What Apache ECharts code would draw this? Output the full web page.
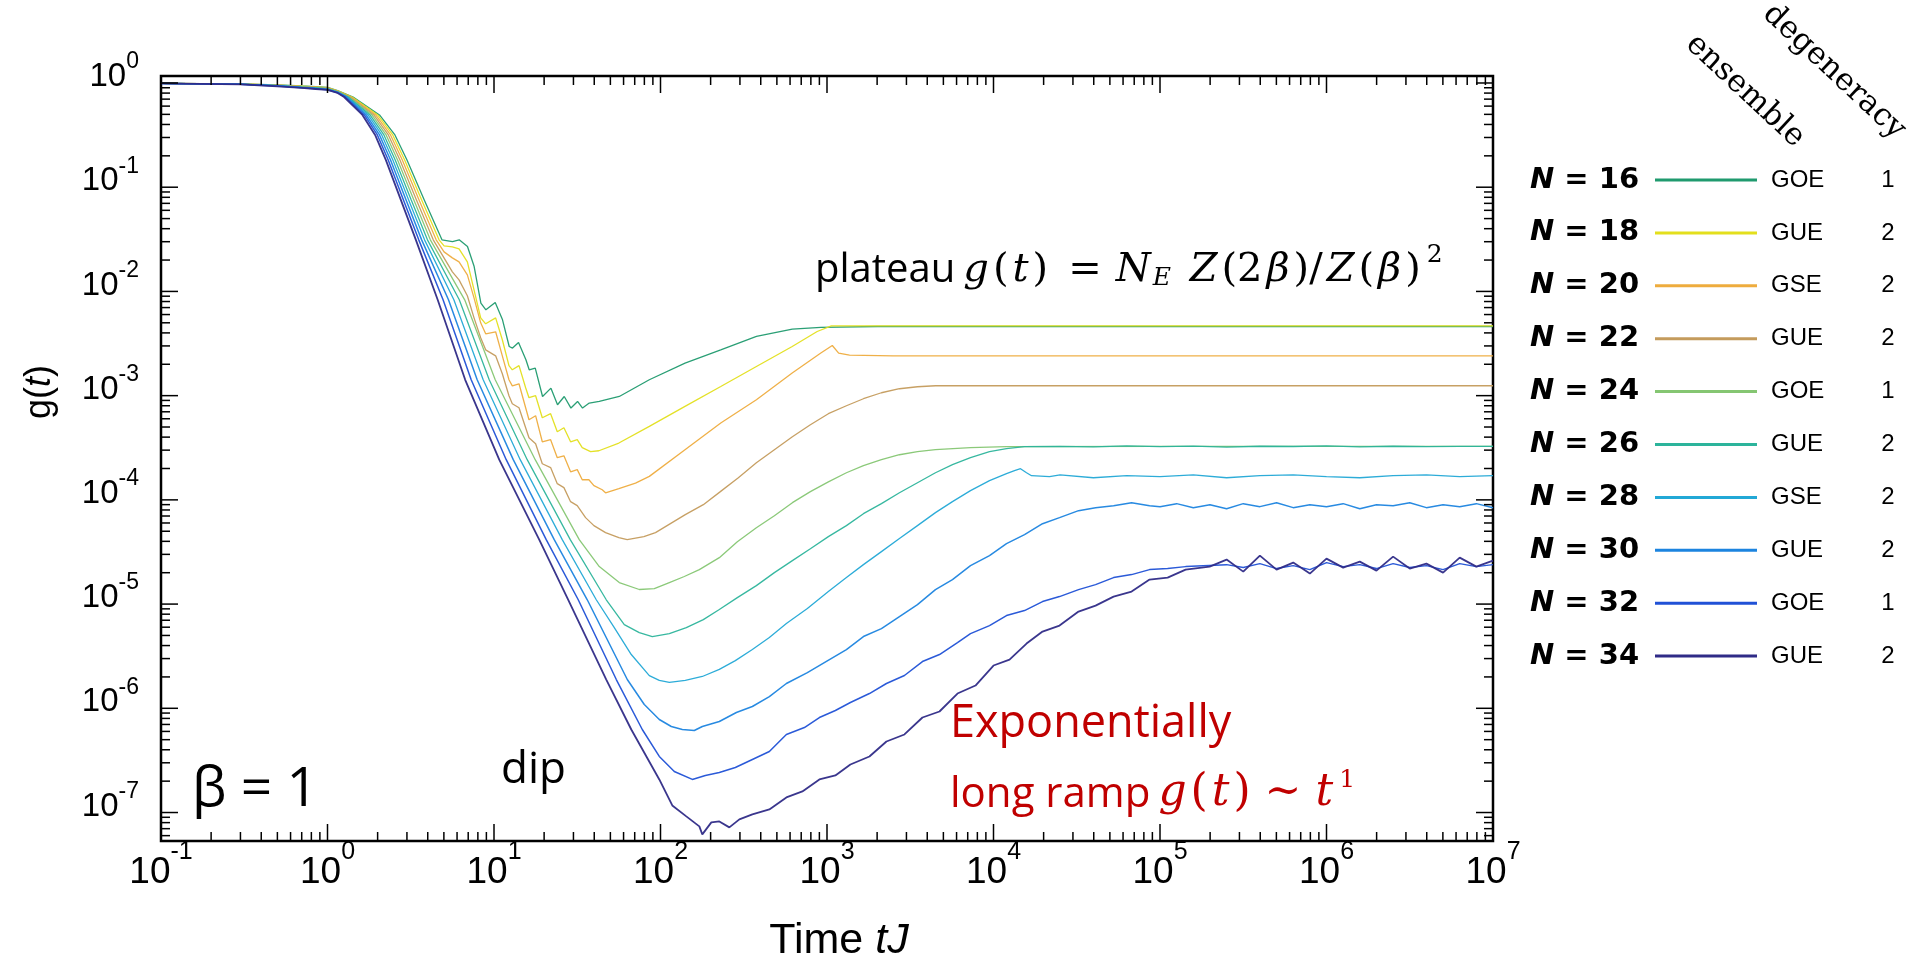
<!DOCTYPE html>
<html>
<head>
<meta charset="utf-8">
<title>Spectral form factor g(t), β = 1</title>
<script src="https://cdn.jsdelivr.net/npm/echarts@6/dist/echarts.min.js"></script>
<style>
  html, body { margin: 0; padding: 0; background: #fff; }
  #chart { width: 1911px; height: 966px; }
</style>
</head>
<body>
<div id="chart"></div>
<script>
// ---- data: g(t) for each system size, as [time tJ, g] pairs ----
const n16 = [[0.1,0.99],[0.3,0.98],[0.5,0.96],[0.7,0.936],[0.85,0.924],[1,0.909],[1.15,0.846],[1.425,0.734],[2.053,0.4934],[2.541,0.3173],[3.002,0.1827],[3.812,0.0755],[4.869,0.03125],[5.63,0.0301],[6.18,0.03125],[6.93,0.02695],[7.60,0.01733],[8.34,0.00772],[8.94,0.00666],[10.17,0.00783],[11.25,0.00534],[12.34,0.00296],[12.92,0.00286],[14.04,0.00324],[15.55,0.00221],[16.27,0.00177],[17.69,0.00184],[19.57,0.000982],[21.98,0.00118],[24.07,0.000818],[26.42,0.000982],[28.98,0.00076],[31.76,0.00088],[34.03,0.00076],[37.34,0.000849],[42.88,0.00088],[56.55,0.000982],[85.66,0.00142],[140.4,0.00205],[230,0.00275],[377,0.0037],[618.7,0.00435],[917.9,0.00451],[2000,0.00461],[1e4,0.00461],[1e5,0.00461],[1e6,0.00461],[1e7,0.00461]];
const n18 = [[0.1,0.99],[0.3,0.979],[0.5,0.956],[0.7,0.931],[0.85,0.918],[1,0.903],[1.15,0.841],[1.405,0.734],[2.001,0.4934],[2.465,0.3173],[2.906,0.1827],[3.677,0.0755],[4.677,0.03125],[5.012,0.02736],[5.623,0.02677],[6.166,0.02561],[6.918,0.01922],[7.586,0.01036],[8.318,0.00558],[8.913,0.00489],[10.23,0.00558],[11.22,0.00344],[12.30,0.00194],[12.88,0.00177],[14.13,0.00194],[15.49,0.00119],[16.22,0.000955],[17.78,0.000998],[19.50,0.000614],[21.88,0.000671],[23.99,0.000451],[26.30,0.000492],[28.84,0.000361],[31.62,0.000378],[33.88,0.000317],[38.02,0.00029],[42.66,0.000296],[56.23,0.000351],[85.7,0.000507],[140.3,0.000788],[230.1,0.001225],[376.7,0.001905],[618,0.002963],[873,0.004125],[1062,0.00468],[3000,0.00468],[1e4,0.00468],[1e5,0.00468],[1e6,0.00468],[1e7,0.00468]];
const n20 = [[0.1,0.99],[0.3,0.978],[0.5,0.953],[0.7,0.927],[0.85,0.913],[1,0.897],[1.15,0.836],[1.386,0.734],[1.948,0.4934],[2.391,0.3173],[2.814,0.1827],[3.547,0.0755],[4.494,0.03125],[5.012,0.02397],[5.623,0.02099],[6.166,0.01922],[6.918,0.01443],[7.586,0.00868],[8.318,0.005],[8.913,0.00392],[10.23,0.0041],[11.22,0.00241],[12.30,0.00142],[12.88,0.00124],[14.13,0.0013],[15.49,0.000766],[16.22,0.000587],[17.78,0.000642],[19.50,0.000361],[21.88,0.000378],[23.99,0.000254],[26.30,0.000265],[28.84,0.000186],[31.62,0.000195],[33.88,0.000156],[37.15,0.000156],[39.81,0.000137],[44.67,0.000125],[46.77,0.000117],[56.23,0.000128],[70.79,0.000145],[85.7,0.000168],[140.3,0.000303],[230.1,0.000546],[376.7,0.000913],[618,0.001647],[918.3,0.002561],[1076,0.00303],[1175,0.00256],[1365,0.00245],[2500,0.00241],[1e4,0.00241],[1e5,0.00241],[1e6,0.00241],[1e7,0.00241]];
const n22 = [[0.1,0.99],[0.3,0.977],[0.5,0.95],[0.7,0.922],[0.85,0.908],[1,0.891],[1.15,0.831],[1.367,0.734],[1.898,0.4934],[2.320,0.3173],[2.723,0.1827],[3.421,0.0755],[4.317,0.03125],[5.623,0.01541],[6.166,0.01292],[6.918,0.00908],[7.586,0.00558],[8.318,0.00359],[8.913,0.00275],[10.23,0.00241],[11.22,0.00162],[12.30,0.000998],[12.88,0.000837],[14.13,0.000766],[15.49,0.000492],[16.22,0.000395],[17.78,0.000346],[19.50,0.000222],[21.88,0.000204],[23.99,0.000143],[26.30,0.000131],[28.84,9.61e-5],[31.62,8.8e-5],[35.48,6.75e-5],[39.81,5.66e-5],[46.77,4.85e-5],[56.23,4.34e-5],[63.10,4.15e-5],[79.43,4.44e-5],[93.33,4.85e-5],[140.9,7.21e-5],[180.8,8.99e-5],[228.8,0.00012],[293.5,0.000163],[376.5,0.000227],[483,0.000303],[619.6,0.000404],[794.7,0.000526],[1019,0.000671],[1308,0.0008],[1655,0.000934],[2123,0.001066],[2723,0.001165],[3494,0.001217],[4481,0.001244],[1e4,0.001244],[1e5,0.001244],[1e6,0.001244],[1e7,0.001244]];
const n24 = [[0.1,0.99],[0.3,0.976],[0.5,0.948],[0.7,0.918],[0.85,0.902],[1,0.885],[1.15,0.827],[1.348,0.734],[1.849,0.4934],[2.250,0.3173],[2.636,0.1827],[3.301,0.0755],[4.147,0.03125],[6.668,0.00831],[10.17,0.00142],[17.68,0.000243],[32.51,4.15e-5],[42.88,2.29e-5],[56.55,1.61e-5],[74.57,1.38e-5],[91.78,1.41e-5],[113,1.61e-5],[139,1.84e-5],[171.1,2.14e-5],[225.6,2.79e-5],[289.4,3.97e-5],[376.5,5.41e-5],[483,7.05e-5],[619.6,9.4e-5],[794.7,0.00012],[1019,0.000149],[1308,0.000182],[1655,0.000213],[2123,0.000243],[2723,0.000271],[3494,0.00029],[4481,0.000303],[7275,0.000317],[11970,0.000324],[1e5,0.000326],[1e6,0.000326],[1e7,0.000326]];
const n26 = [[0.1,0.99],[0.3,0.975],[0.5,0.945],[0.7,0.914],[0.85,0.897],[1,0.88],[1.15,0.822],[1.33,0.734],[1.8,0.4934],[2.182,0.3173],[2.551,0.1827],[3.184,0.0755],[3.984,0.03125],[6.187,0.00831],[9.359,0.00142],[15.83,0.000243],[28.71,4.15e-5],[47.24,1.10e-5],[60.6,6.36e-6],[74.57,5.33e-6],[89.27,4.88e-6],[113,5.21e-6],[142.9,5.95e-6],[180.8,7.1e-6],[225.6,8.86e-6],[289.4,1.154e-5],[376.5,1.504e-5],[483,2.004e-5],[619.6,2.613e-5],[794.7,3.4e-5],[1019,4.44e-5],[1308,5.66e-5],[1655,7.37e-5],[2123,9.2e-5],[2723,0.000117],[3494,0.000146],[4481,0.000182],[5670,0.000218],[7275,0.000254],[9463,0.00029],[11970,0.00031],[15360,0.000324],[25120,0.000326],[39810,0.000322],[63100,0.00033],[1e5,0.000324],[158500,0.000328],[251200,0.000321],[398100,0.000327],[631000,0.000325],[1e6,0.00033],[1585000,0.000323],[2512000,0.000327],[3981000,0.000324],[6310000,0.000326],[1e7,0.000326]];
const n28 = [[0.1,0.99],[0.3,0.974],[0.5,0.943],[0.7,0.909],[0.85,0.892],[1,0.874],[1.15,0.817],[1.311,0.734],[1.754,0.4934],[2.117,0.3173],[2.47,0.1827],[3.072,0.0755],[3.827,0.03125],[5.741,0.00831],[8.612,0.00142],[14.37,0.000243],[25.7,4.15e-5],[41.14,1.10e-5],[52.78,5.95e-6],[66.76,3.28e-6],[85.66,2.06e-6],[98.35,1.85e-6],[113,1.77e-6],[140.9,1.85e-6],[178.3,2.02e-6],[225.6,2.36e-6],[281.5,2.87e-6],[356.2,3.66e-6],[450.6,4.77e-6],[570.2,6.5e-6],[762.4,9.06e-6],[1019,1.318e-5],[1308,1.795e-5],[1655,2.391e-5],[2123,3.186e-5],[2723,4.25e-5],[3494,5.66e-5],[4481,7.54e-5],[5670,9.61e-5],[7275,0.0001225],[9463,0.0001528],[11970,0.0001784],[13370,0.0001905],[14530,0.0001991],[15790,0.0001823],[16920,0.0001706],[21700,0.0001669],[25120,0.000174],[39810,0.000163],[63100,0.000171],[1e5,0.000167],[158500,0.000174],[251200,0.000163],[398100,0.000171],[631000,0.000174],[1e6,0.000167],[1585000,0.000163],[2512000,0.000171],[3981000,0.000174],[6310000,0.000167],[1e7,0.000171]];
const n30 = [[0.1,0.99],[0.3,0.973],[0.5,0.94],[0.7,0.905],[0.85,0.887],[1,0.868],[1.15,0.812],[1.294,0.734],[1.708,0.4934],[2.053,0.3173],[2.391,0.1827],[2.964,0.0755],[3.677,0.03125],[5.329,0.00831],[7.925,0.00142],[13.05,0.000243],[23,4.15e-5],[36.32,1.10e-5],[63.17,1.888e-6],[79.91,1.087e-6],[98.35,7.81e-7],[116.1,6.69e-7],[135.2,6.26e-7],[159.6,6.12e-7],[178.3,6.69e-7],[225.6,7.47e-7],[285.5,9.11e-7],[356.2,1.041e-6],[450.6,1.297e-6],[570.2,1.729e-6],[762.4,2.203e-6],[1034,2.937e-6],[1308,3.66e-6],[1655,4.88e-6],[2123,5.82e-6],[2723,7.59e-6],[3494,9.89e-6],[4481,1.377e-5],[5670,1.717e-5],[7275,2.339e-5],[9463,2.917e-5],[11970,3.8e-5],[15360,4.64e-5],[19700,5.91e-5],[24920,6.75e-5],[32420,7.88e-5],[41030,8.42e-5],[52620,8.8e-5],[67500,9.4e-5],[86580,8.8e-5],[1e5,8.61e-5],[125900,9.2e-5],[158500,8.42e-5],[199500,8.99e-5],[251200,8.23e-5],[316200,9.2e-5],[398100,8.61e-5],[501200,9.4e-5],[631000,8.42e-5],[794300,8.99e-5],[1e6,8.61e-5],[1259000,9.2e-5],[1585000,8.23e-5],[1995000,8.99e-5],[2512000,8.8e-5],[3162000,9.4e-5],[3981000,8.42e-5],[5012000,8.99e-5],[6310000,8.61e-5],[7943000,9.2e-5],[1e7,8.42e-5]];
const n32 = [[0.1,0.99],[0.3,0.972],[0.5,0.935],[0.7,0.9],[0.85,0.881],[1,0.862],[1.15,0.807],[1.276,0.734],[1.664,0.4934],[1.993,0.3173],[2.315,0.1827],[2.858,0.0755],[3.533,0.03125],[4.944,0.00831],[7.295,0.00142],[11.84,0.000243],[20.59,4.15e-5],[32.06,1.10e-5],[54.27,1.888e-6],[77.72,6.26e-7],[98.35,3.45e-7],[121,2.478e-7],[155.3,2.077e-7],[185.9,2.268e-7],[225.6,2.424e-7],[281.5,2.706e-7],[356.2,3.229e-7],[450.6,3.853e-7],[570.2,5.61e-7],[731.5,6.54e-7],[900.2,8.16e-7],[1123,9.53e-7],[1382,1.136e-6],[1798,1.386e-6],[2275,1.729e-6],[2918,2.063e-6],[3743,2.81e-6],[4738,3.28e-6],[6077,4.27e-6],[7275,5.21e-6],[9463,6.22e-6],[11970,7.76e-6],[15360,8.66e-6],[19700,1.057e-5],[24920,1.18e-5],[32420,1.377e-5],[41030,1.538e-5],[52620,1.795e-5],[67500,1.918e-5],[86580,2.142e-5],[111100,2.19e-5],[142500,2.288e-5],[251200,2.391e-5],[316200,2.239e-5],[398100,2.445e-5],[501200,2.19e-5],[631000,2.339e-5],[794300,2.142e-5],[1e6,2.5e-5],[1259000,2.288e-5],[1585000,2.391e-5],[1995000,2.19e-5],[2512000,2.445e-5],[3162000,2.239e-5],[3981000,2.339e-5],[5012000,2.142e-5],[6310000,2.445e-5],[7943000,2.288e-5],[1e7,2.391e-5]];
const n34 = [[0.1,0.99],[0.3,0.97],[0.5,0.93],[0.7,0.896],[0.85,0.876],[1,0.857],[1.15,0.802],[1.258,0.734],[1.621,0.4934],[1.932,0.3173],[2.24,0.1827],[2.757,0.0755],[3.394,0.03125],[4.589,0.00831],[6.714,0.00142],[10.75,0.000243],[18.69,4.15e-5],[27.92,1.10e-5],[47.24,1.888e-6],[66.76,6.26e-7],[98.35,2.077e-7],[117.7,1.169e-7],[142.9,9.18e-8],[171.1,7.36e-8],[178.3,6.17e-8],[202,8.04e-8],[225.6,8.21e-8],[259.1,7.2e-8],[297.6,8.59e-8],[356.2,9.59e-8],[450.6,1.071e-7],[570.2,1.396e-7],[711.5,1.594e-7],[900.2,2.077e-7],[1123,2.268e-7],[1382,2.891e-7],[1798,3.45e-7],[2275,4.8e-7],[2918,5.61e-7],[3743,8.16e-7],[4738,9.32e-7],[6077,1.386e-6],[7795,1.654e-6],[1e4,2.573e-6],[12480,2.937e-6],[15790,4.18e-6],[19700,5.45e-6],[24920,6.22e-6],[32420,8.48e-6],[41030,9.67e-6],[52620,1.18e-5],[67500,1.318e-5],[86580,1.717e-5],[111100,1.795e-5],[142500,2.142e-5],[198700,2.288e-5],[251200,2.672e-5],[316200,2.049e-5],[398100,2.917e-5],[501200,2.142e-5],[631000,2.5e-5],[794300,1.961e-5],[1e6,2.731e-5],[1259000,2.239e-5],[1585000,2.556e-5],[1995000,2.096e-5],[2512000,2.853e-5],[3162000,2.19e-5],[3981000,2.445e-5],[5012000,2.004e-5],[6310000,2.791e-5],[7943000,2.288e-5],[1e7,2.613e-5]];

// ---- legend table ----
const sizes = [16, 18, 20, 22, 24, 26, 28, 30, 32, 34];
const ensembles = ['GOE', 'GUE', 'GSE', 'GUE', 'GOE', 'GUE', 'GSE', 'GUE', 'GOE', 'GUE'];
const degeneracies = [1, 2, 2, 2, 1, 2, 2, 2, 1, 2];
const curves = [n16, n18, n20, n22, n24, n26, n28, n30, n32, n34];
const palette = ['#1f9a6e', '#e3df1c', '#eeac3e', '#c49b5c', '#85c672', '#2cb49b', '#22a8d6', '#1c84df', '#2051d6', '#2f2b87'];

// ---- axis ranges and tick values ----
const X_MIN = 0.1, X_MAX = 1e7;
const Y_MIN = 5.33e-8, Y_MAX = 1.167;
const xDecades = [0.1, 1, 10, 100, 1e3, 1e4, 1e5, 1e6, 1e7];
const yDecades = [1e-8, 1e-7, 1e-6, 1e-5, 1e-4, 1e-3, 1e-2, 1e-1, 1];
const minorSteps = [2, 3, 4, 5, 6, 7, 8, 9];

// tick marks drawn inward on all four sides: [x, y, axis(0=x,1=y), major]
const tickItems = [];
xDecades.forEach(d => {
  tickItems.push([d, 1, 0, 1]);
  minorSteps.forEach(m => { const v = d * m; if (v < X_MAX) tickItems.push([v, 1, 0, 0]); });
});
yDecades.forEach(d => {
  if (d >= Y_MIN && d <= Y_MAX) tickItems.push([1, d, 1, 1]);
  minorSteps.forEach(m => { const v = d * m; if (v > Y_MIN && v < Y_MAX) tickItems.push([1, v, 1, 0]); });
});

const GRID = { left: 161, top: 76, width: 1332, height: 765 };
const LEG_TOP = 165, LEG_PITCH = 52.9, LEG_ROW_H = 30;

function powerLabel(v) {
  const e = Math.log10(v);
  const r = Math.round(e);
  if (Math.abs(e - r) > 1e-6) return '';
  return '{b|10}{s|' + r + '}';
}

const chart = echarts.init(document.getElementById('chart'), null, { renderer: 'canvas' });

const lineSeries = sizes.map((n, i) => ({
  name: 'N = ' + n,
  type: 'line',
  data: curves[i],
  showSymbol: false,
  symbol: 'none',
  silent: true,
  z: 2 + i,
  itemStyle: { color: palette[i] },
  lineStyle: { color: palette[i], width: i >= 9 ? 1.8 : (i >= 7 ? 1.5 : 1.3), opacity: 0.95 }
}));

const tickSeries = {
  type: 'custom',
  silent: true,
  z: 20,
  clip: false,
  data: tickItems,
  encode: { x: 0, y: 1 },
  renderItem: function (params, api) {
    const cs = params.coordSys;
    const major = api.value(3) === 1;
    const len = major ? 17 : 9;
    const style = { stroke: '#000', lineWidth: 1.5 };
    if (api.value(2) === 0) {
      const px = api.coord([api.value(0), 1])[0];
      const b = cs.y + cs.height;
      return { type: 'group', children: [
        { type: 'line', shape: { x1: px, y1: b, x2: px, y2: b - len }, style: style },
        { type: 'line', shape: { x1: px, y1: cs.y, x2: px, y2: cs.y + len }, style: style }
      ] };
    }
    const py = api.coord([1, api.value(1)])[1];
    const r = cs.x + cs.width;
    return { type: 'group', children: [
      { type: 'line', shape: { x1: cs.x, y1: py, x2: cs.x + len, y2: py }, style: style },
      { type: 'line', shape: { x1: r, y1: py, x2: r - len, y2: py }, style: style }
    ] };
  }
};

const graphics = [];
// y axis title
graphics.push({
  type: 'text', x: 40, y: 392, rotation: Math.PI / 2, silent: true,
  style: {
    text: '{a|g(}{b|t}{a|)}', align: 'center', verticalAlign: 'middle',
    rich: {
      a: { fontFamily: 'Liberation Sans', fontSize: 36, fill: '#000' },
      b: { fontFamily: 'Liberation Sans', fontSize: 36, fontStyle: 'italic', fill: '#000' }
    }
  }
});
// x axis title
graphics.push({
  type: 'text', x: 839, y: 941, silent: true,
  style: {
    text: '{a|Time }{b|tJ}', align: 'center', verticalAlign: 'middle',
    rich: {
      a: { fontFamily: 'Liberation Sans', fontSize: 43, fill: '#000' },
      b: { fontFamily: 'Liberation Sans', fontSize: 43, fontStyle: 'italic', fill: '#000' }
    }
  }
});
// annotations
graphics.push({
  type: 'text', x: 192, y: 790, silent: true,
  style: { text: 'β = 1', fontFamily: 'Open Sans', fontSize: 55, fill: '#000', align: 'left', verticalAlign: 'middle' }
});
graphics.push({
  type: 'text', x: 501, y: 770, silent: true,
  style: { text: 'dip', fontFamily: 'Open Sans', fontSize: 44, fill: '#000', align: 'left', verticalAlign: 'middle' }
});
// math-style rich text pieces: t = prose, m = italic variable, u = upright symbol
const mathRich = function (color, textSize, mathSize, relPad) {
  const pad = [0, 2, 0, 2];
  return {
    t: { fontFamily: 'Open Sans', fontSize: textSize, lineHeight: 50, verticalAlign: 'bottom', fill: color, padding: [0, 6, 0, 0] },
    m: { fontFamily: 'DejaVu Serif', fontStyle: 'italic', fontSize: mathSize, lineHeight: 50, verticalAlign: 'bottom', fill: color, padding: pad },
    u: { fontFamily: 'DejaVu Serif', fontSize: mathSize, lineHeight: 50, verticalAlign: 'bottom', fill: color, padding: pad },
    rel: { fontFamily: 'DejaVu Serif', fontSize: mathSize, lineHeight: 50, verticalAlign: 'bottom', fill: color, padding: relPad },
    sp: { fontFamily: 'DejaVu Serif', fontSize: mathSize, lineHeight: 50, verticalAlign: 'bottom', fill: color, padding: [0, 4, 0, 0] },
    sub: { fontFamily: 'DejaVu Serif', fontStyle: 'italic', fontSize: 25, lineHeight: 25, verticalAlign: 'bottom', fill: color },
    sup: { fontFamily: 'DejaVu Serif', fontSize: 25, lineHeight: 25, padding: [0, 0, 23, 4], verticalAlign: 'bottom', fill: color }
  };
};
graphics.push({
  type: 'text', x: 815, y: 291, silent: true,
  style: {
    text: '{t|plateau}{m|g}{u|(}{m|t}{u|)}{rel|=}{m|N}{sub|E}{sp| }{m|Z}{u|(2}{m|β}{u|)/}{m|Z}{u|(}{m|β}{u|)}{sup|2}',
    align: 'left', verticalAlign: 'bottom', rich: mathRich('#000', 40, 40, [0, 12, 0, 18])
  }
});
graphics.push({
  type: 'text', x: 950, y: 724, silent: true,
  style: { text: 'Exponentially', fontFamily: 'Open Sans', fontSize: 45, fill: '#c00000', align: 'left', verticalAlign: 'middle' }
});
graphics.push({
  type: 'text', x: 950, y: 816, silent: true,
  style: {
    text: '{t|long ramp}{m|g}{u|(}{m|t}{u|)}{rel|~}{m|t}{sup|1}',
    align: 'left', verticalAlign: 'bottom', rich: mathRich('#c00000', 42, 44, [0, 12, 0, 12])
  }
});
// legend column headers
graphics.push({
  type: 'text', x: 1745, y: 91, rotation: -43 * Math.PI / 180, silent: true,
  style: { text: 'ensemble', fontFamily: 'DejaVu Serif', fontSize: 31, fill: '#000', align: 'center', verticalAlign: 'middle' }
});
graphics.push({
  type: 'text', x: 1834, y: 72, rotation: -43 * Math.PI / 180, silent: true,
  style: { text: 'degeneracy', fontFamily: 'DejaVu Serif', fontSize: 31, fill: '#000', align: 'center', verticalAlign: 'middle' }
});
// legend row labels and degeneracies
sizes.forEach((n, i) => {
  const cy = LEG_TOP + LEG_ROW_H / 2 + i * LEG_PITCH;
  graphics.push({
    type: 'text', x: 1530, y: cy, silent: true,
    style: {
      text: '{n|N}{r| = ' + n + '}', align: 'left', verticalAlign: 'middle',
      rich: {
        n: { fontFamily: 'DejaVu Sans', fontWeight: 'bold', fontStyle: 'italic', fontSize: 29, fill: '#000' },
        r: { fontFamily: 'DejaVu Sans', fontWeight: 'bold', fontSize: 29, fill: '#000' }
      }
    }
  });
  graphics.push({
    type: 'text', x: 1888, y: cy, silent: true,
    style: { text: String(degeneracies[i]), fontFamily: 'Liberation Sans', fontSize: 24, fill: '#000', align: 'center', verticalAlign: 'middle' }
  });
});

const option = {
  animation: false,
  backgroundColor: '#ffffff',
  grid: Object.assign({ show: true, borderColor: '#000', borderWidth: 2.5, backgroundColor: 'transparent', containLabel: false }, GRID),
  xAxis: {
    type: 'log', logBase: 10, min: X_MIN, max: X_MAX,
    axisLine: { show: false }, axisTick: { show: false }, splitLine: { show: false }, minorTick: { show: false },
    axisLabel: {
      margin: 13, formatter: powerLabel,
      rich: {
        b: { fontFamily: 'Liberation Sans', fontSize: 37, lineHeight: 37, color: '#000', verticalAlign: 'bottom' },
        s: { fontFamily: 'Liberation Sans', fontSize: 25, lineHeight: 25, color: '#000', verticalAlign: 'bottom', padding: [0, 0, 26, 0] }
      }
    }
  },
  yAxis: {
    type: 'log', logBase: 10, min: Y_MIN, max: Y_MAX,
    axisLine: { show: false }, axisTick: { show: false }, splitLine: { show: false }, minorTick: { show: false },
    axisLabel: {
      margin: 22, formatter: powerLabel,
      rich: {
        b: { fontFamily: 'Liberation Sans', fontSize: 33, lineHeight: 33, color: '#000', verticalAlign: 'bottom', padding: [0, 0, 6, 0] },
        s: { fontFamily: 'Liberation Sans', fontSize: 23, lineHeight: 23, color: '#000', verticalAlign: 'bottom', padding: [0, 0, 26, 0] }
      }
    }
  },
  legend: {
    orient: 'vertical', left: 1655, top: LEG_TOP, padding: 0,
    itemWidth: 102, itemHeight: 3, itemGap: LEG_PITCH - LEG_ROW_H,
    icon: 'rect', selectedMode: false,
    data: sizes.map(n => 'N = ' + n),
    formatter: function (name) { return ensembles[sizes.indexOf(Number(name.split('= ')[1]))]; },
    textStyle: { fontFamily: 'Liberation Sans', fontSize: 24, lineHeight: LEG_ROW_H, color: '#000', padding: [0, 0, 0, 9] }
  },
  graphic: graphics,
  series: lineSeries.concat([tickSeries])
};

chart.setOption(option);
</script>
</body>
</html>
